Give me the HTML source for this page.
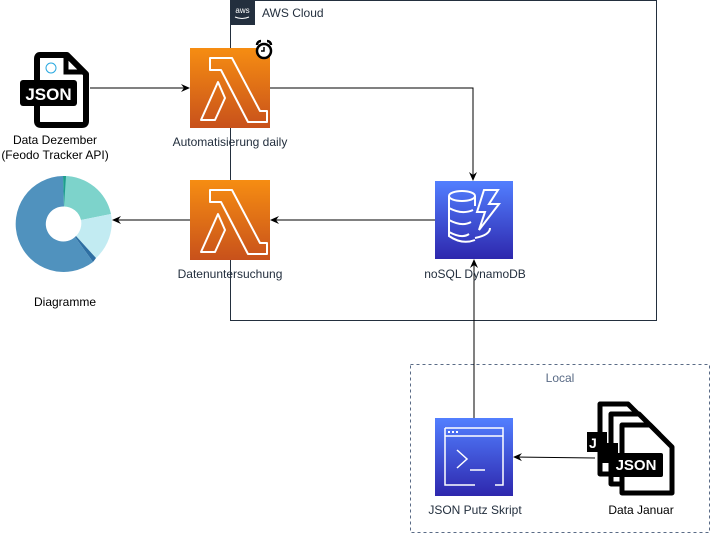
<!DOCTYPE html>
<html><head><style>
body{margin:0;width:711px;height:535px;background:#fff;position:relative;font-family:"Liberation Sans",sans-serif;overflow:hidden}
.t{position:absolute;font-size:12px;color:#232f3e;text-align:center;white-space:nowrap}
</style></head><body>
<svg width="711" height="535" style="position:absolute;left:0;top:0">
<defs>
<linearGradient id="or" x1="0" y1="1" x2="0" y2="0"><stop offset="0" stop-color="#c8511b"/><stop offset="1" stop-color="#f68d12"/></linearGradient>
<linearGradient id="bl" x1="0" y1="1" x2="0" y2="0"><stop offset="0" stop-color="#2e27ad"/><stop offset="1" stop-color="#527fff"/></linearGradient>
<marker id="a" markerWidth="10" markerHeight="10" refX="8" refY="5" orient="auto" markerUnits="userSpaceOnUse"><path d="M0,1 L9,5 L0,9 L3,5z" fill="#000"/></marker>
</defs>
<rect x="230.5" y="0.5" width="426" height="320" fill="none" stroke="#232f3e"/>
<rect x="230" y="0" width="25" height="25" fill="#232f3e"/>
<text x="242.5" y="13" font-size="8" fill="#fff" text-anchor="middle">aws</text>
<path d="M235 17 q7 3 14 0" stroke="#fff" fill="none" stroke-width="1"/>
<text x="262" y="17" font-size="12" fill="#232f3e">AWS Cloud</text>
<rect x="410.5" y="364.5" width="299" height="168" fill="none" stroke="#5a6b86" stroke-dasharray="3,3"/>
<text x="560" y="382" font-size="12" fill="#5a6b86" text-anchor="middle">Local</text>
<path d="M90 88 H189" stroke="#000" fill="none" marker-end="url(#a)"/>
<path d="M270 88 H473 V180" stroke="#000" fill="none" marker-end="url(#a)"/>
<path d="M435 220 H271" stroke="#000" fill="none" marker-end="url(#a)"/>
<path d="M190 220 H113" stroke="#000" fill="none" marker-end="url(#a)"/>
<path d="M474 418 V260" stroke="#000" fill="none" marker-end="url(#a)"/>
<path d="M595 458 L514 457" stroke="#000" fill="none" marker-end="url(#a)"/>
<g id="lam">
<rect x="190" y="48" width="80" height="80" fill="url(#or)"/>
<path d="M210 58 h22 l28 53 h7 v11 h-19 l-27 -52 h-11z M218 82 l7 16 l-10 22 h-14z" fill="none" stroke="#fff" stroke-width="2" stroke-linejoin="round"/>
</g>
<use href="#lam" y="132"/>
<circle cx="264" cy="51" r="7" fill="#fff" stroke="#000" stroke-width="2.5"/>
<path d="M264 47 v4 h-3" stroke="#000" fill="none" stroke-width="1.5"/>
<path d="M257 45 a4 4 0 0 1 4 -4 M267 41 a4 4 0 0 1 4 4" stroke="#000" stroke-width="2.5" fill="none"/>
<rect x="435" y="181" width="78" height="78" fill="url(#bl)"/>
<g fill="none" stroke="#fff" stroke-width="2">
<ellipse cx="462" cy="196" rx="13" ry="5"/>
<path d="M449 196 v40 q13 9 26 4 M449 208 q13 7 24 2 M449 220 q13 7 22 2 M449 232 q13 7 20 2 M475 196 v10"/>
<path d="M484 190 h14 l-9 14 h10 l-20 26 l6 -18 h-8z"/>
<path d="M475 238 q15 -3 15 -10"/>
</g>
<rect x="435" y="418" width="78" height="78" fill="url(#bl)"/>
<g fill="none" stroke="#fff" stroke-width="1.5">
<path d="M445 428 h58 v57 h-8 M445 428 v57 h30 M445 436 h58"/>
<path d="M457 450 l10 9 l-10 9 M470 470 h15"/>
</g>
<g fill="#fff"><rect x="448" y="431" width="2" height="2"/><rect x="452" y="431" width="2" height="2"/><rect x="456" y="431" width="2" height="2"/></g>
<path d="M40 55 h27 l19 19 v47 q0 4 -4 4 h-41 q-4 0 -4 -4 v-62 q0 -4 3 -4z" fill="#fff" stroke="#000" stroke-width="6" stroke-linejoin="round"/>
<path d="M66 56 v16 h19" fill="none" stroke="#000" stroke-width="5"/>
<rect x="20" y="80" width="57" height="26" rx="3" fill="#000"/>
<text x="48.5" y="100" font-size="17" font-weight="bold" fill="#fff" text-anchor="middle">JSON</text>
<circle cx="51" cy="68" r="5" fill="none" stroke="#29a8e0" stroke-width="1"/>
<g stroke="#000" stroke-width="5" fill="#fff" stroke-linejoin="round">
<path d="M600 404 h28 l20 20 v50 h-48z"/>
<path d="M611 414 h28 l20 20 v50 h-48z"/>
<path d="M622 425 h28 l22 22 v46 h-50z"/>
</g>
<rect x="587" y="432" width="20" height="20" fill="#000"/>
<text x="589" y="448" font-size="14" font-weight="bold" fill="#fff">J</text>
<rect x="598" y="443" width="20" height="20" fill="#000"/>
<rect x="609" y="453" width="54" height="24" rx="2" fill="#000"/>
<text x="636" y="470" font-size="15" font-weight="bold" fill="#fff" text-anchor="middle">JSON</text>
<g transform="translate(64,224)">
<path d="M0 -48 A48 48 0 0 1 47 -10 L17 -4 A17.5 17.5 0 0 0 0 -17.5z" fill="#7dd3cb"/>
<path d="M47 -10 A48 48 0 0 1 32 34 L12 12 A17.5 17.5 0 0 0 17 -4z" fill="#c2ebf2"/>
<path d="M32 34 A48 48 0 0 1 29 38 L11 13 A17.5 17.5 0 0 0 12 12z" fill="#2e6fa3"/>
<path d="M29 38 A48 48 0 1 1 -1 -48 L0 -17.5 A17.5 17.5 0 1 0 11 13z" fill="#5092be"/>
<path d="M-1 -48 A48 48 0 0 1 2 -48 L0 -17.5z" fill="#1d9e8d"/>
</g>
</svg>
<div class="t" style="left:0;width:110px;top:133px;color:#000;line-height:15px">Data Dezember<br>(Feodo Tracker API)</div>
<div class="t" style="left:150px;width:160px;top:135px">Automatisierung daily</div>
<div class="t" style="left:150px;width:160px;top:267px">Datenuntersuchung</div>
<div class="t" style="left:400px;width:150px;top:267px">noSQL DynamoDB</div>
<div class="t" style="left:10px;width:110px;top:295px;color:#000">Diagramme</div>
<div class="t" style="left:400px;width:150px;top:503px">JSON Putz Skript</div>
<div class="t" style="left:566px;width:150px;top:503px;color:#000">Data Januar</div>
</body></html>
